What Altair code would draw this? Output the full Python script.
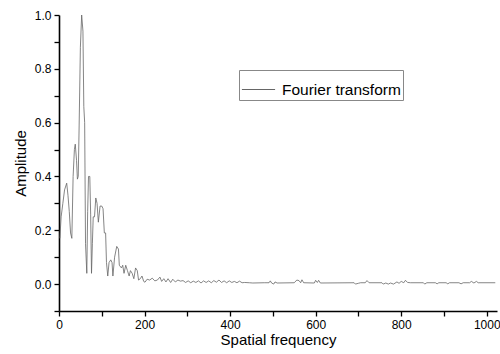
import altair as alt
import pandas as pd

freq = [2, 5, 9, 13, 18, 21, 24, 27, 30, 33, 36, 38, 41, 43, 45, 47, 50, 53, 56, 58,
        60, 62, 65, 67, 69, 72, 74, 76, 78, 80, 83, 86, 89, 92, 96, 100, 103, 106, 109, 111,
        114, 117, 121, 124, 126, 130, 135, 139, 141, 146, 149, 152, 156, 160, 164, 167, 171, 175, 179, 183,
        186, 190, 194, 198, 201, 206, 212, 218, 224, 230, 236, 240, 245, 250, 255, 261, 266, 272, 278, 284,
        290, 296, 302, 308, 314, 320, 326, 332, 338, 344, 350, 356, 362, 368, 374, 380, 386, 392, 398, 404,
        410, 416, 422, 428, 434, 445, 453, 480, 491, 494, 497, 502, 505, 510, 550, 556, 561, 565, 568, 572,
        597, 600, 604, 607, 611, 690, 693, 700, 705, 716, 720, 725, 755, 758, 764, 770, 775, 782, 790, 795,
        800, 806, 810, 815, 822, 852, 855, 860, 880, 884, 888, 905, 909, 913, 935, 940, 945, 960, 964, 970,
        976, 980, 1020]
amp = [0.17, 0.25, 0.30, 0.35, 0.375, 0.33, 0.27, 0.19, 0.17, 0.40, 0.50, 0.52, 0.46, 0.39, 0.40, 0.58, 0.88, 1.0, 0.94, 0.66,
       0.60, 0.15, 0.04, 0.27, 0.40, 0.40, 0.26, 0.04, 0.15, 0.25, 0.25, 0.32, 0.30, 0.23, 0.29, 0.29, 0.28, 0.19, 0.19, 0.08,
       0.03, 0.08, 0.09, 0.08, 0.03, 0.10, 0.14, 0.13, 0.07, 0.06, 0.07, 0.04, 0.07, 0.05, 0.03, 0.05, 0.04, 0.02, 0.06, 0.05,
       0.015, 0.02, 0.03, 0.01, 0.007, 0.018, 0.015, 0.022, 0.012, 0.015, 0.026, 0.01, 0.02, 0.008, 0.02, 0.006, 0.018, 0.008, 0.015, 0.011,
       0.013, 0.006, 0.012, 0.005, 0.011, 0.006, 0.012, 0.004, 0.012, 0.006, 0.012, 0.005, 0.013, 0.007, 0.015, 0.006, 0.012, 0.005, 0.012, 0.006,
       0.01, 0.005, 0.011, 0.005, 0.006, 0.005, 0.004, 0.005, 0.005, 0.012, 0.004, 0.0, 0.008, 0.004, 0.005, 0.015, 0.013, 0.005, 0.016, 0.005,
       0.004, 0.014, 0.006, 0.014, 0.004, 0.005, 0.0, 0.003, 0.005, 0.005, 0.013, 0.005, 0.005, 0.0, 0.004, 0.0, 0.004, 0.0, 0.008, 0.003,
       0.01, 0.005, 0.014, 0.006, 0.005, 0.005, 0.0, 0.005, 0.005, 0.001, 0.005, 0.005, 0.001, 0.005, 0.005, 0.001, 0.005, 0.005, 0.01, 0.004,
       0.01, 0.005, 0.005]

series_name = "Fourier transform"
x_ticks = [0, 100, 200, 300, 400, 500, 600, 700, 800, 900, 1000]
y_ticks = [-0.1, 0.0, 0.1, 0.2, 0.3, 0.4, 0.5, 0.6, 0.7, 0.8, 0.9, 1.0]

df = pd.DataFrame({"freq": freq, "amp": amp, "series": [series_name] * len(freq)})

FONT = "Liberation Sans"

chart = alt.Chart(df).mark_line(strokeWidth=0.8, interpolate="linear").encode(
    x=alt.X("freq:Q", scale=alt.Scale(domain=[0, 1024], nice=False, zero=False),
            axis=alt.Axis(title="Spatial frequency", values=x_ticks, grid=False,
                          labelExpr="datum.value % 200 == 0 ? datum.label : ''",
                          format="d", labelFlush=False)),
    y=alt.Y("amp:Q", scale=alt.Scale(domain=[-0.1, 1.0], nice=False, zero=False),
            axis=alt.Axis(title="Amplitude", values=y_ticks, grid=False, format=".1f",
                          labelExpr="(abs(round(datum.value*10)) % 2 == 0) ? datum.label : ''")),
    color=alt.Color("series:N", scale=alt.Scale(range=["#666666"]),
                    legend=alt.Legend(title=None, orient="none", legendX=180, legendY=55,
                                      symbolType="stroke", symbolSize=1100, symbolStrokeWidth=1,
                                      strokeColor="#888888", padding=2, labelFontSize=15.5,
                                      labelFont=FONT, labelColor="black", labelOffset=6)),
).properties(
    width=438, height=296,
    padding={"left": 59, "top": 15, "right": 3, "bottom": 43},
    autosize=alt.AutoSizeParams(type="none"),
).configure_view(stroke=None).configure_axis(
    domainColor="black", domainWidth=1.6, tickColor="black", tickWidth=1.3, tickSize=5,
    labelFont=FONT, labelFontSize=12, labelColor="black", labelPadding=3,
    titleFont=FONT, titleFontSize=15, titleFontWeight="normal", titleColor="black",
).configure_axisX(titlePadding=2).configure_axisY(titlePadding=6)

chart.save("out.html", embed_options={"renderer": "svg", "actions": False})
